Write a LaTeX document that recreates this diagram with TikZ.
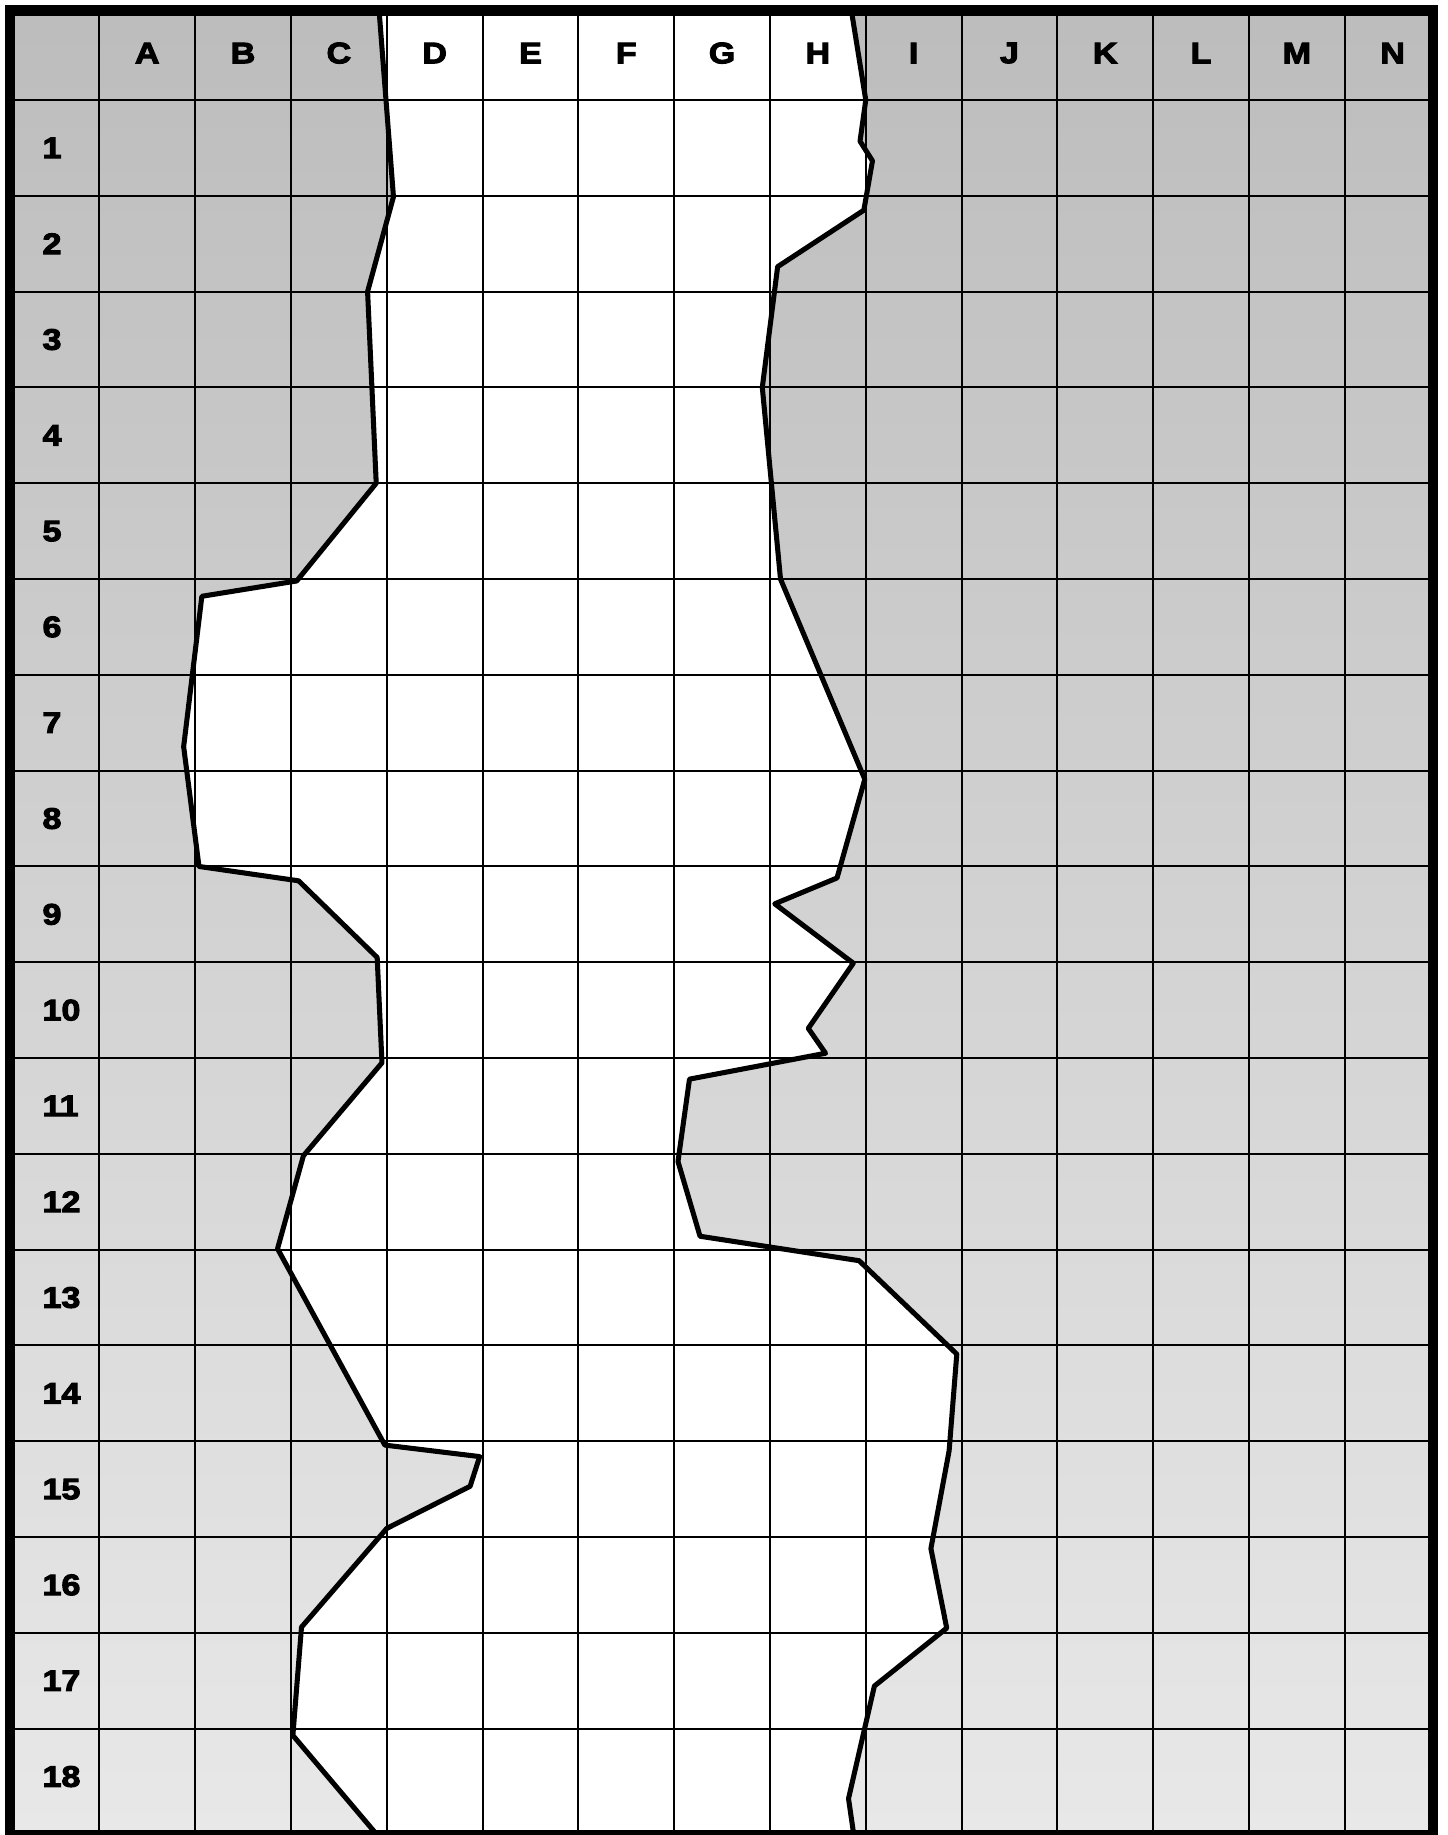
\documentclass[tikz,border=0pt]{standalone}
\usepackage{fontspec}
\newfontfamily\hdrfont{Liberation Sans}[BoldFeatures={FakeBold=3.5,FakeStretch=1.15}]
\usepackage{tikz}

\definecolor{shadetop}{gray}{0.74}
\definecolor{shadebot}{gray}{0.91}

\begin{document}
\begin{tikzpicture}[
  x=1cm, y=-1cm,
  every node/.style={font=\hdrfont\bfseries\fontsize{8.8}{10}\selectfont, inner sep=0pt},
  colhead/.style={anchor=center},
  rowhead/.style={anchor=west},
  cellline/.style={line width=0.6pt},
  edgeline/.style={line width=1.5pt, line join=round},
  border/.style={line width=3pt},
  bank/.style={top color=shadetop, bottom color=shadebot, draw=none}
]
\useasboundingbox[fill=white] (-0.037,-0.044) rectangle (15.068,19.11);

% left and right edges of the channel
\foreach \p [count=\i] in {{3.92,0.066},{4.07,2.01},{3.80,3.0},{3.89,5.0},{3.06,6.02},
  {2.07,6.18},{1.88,7.75},{2.04,9.0},{3.08,9.15},{3.9,9.95},{3.95,11.05},{3.13,12.02},
  {2.86,12.99},{3.98,15.04},{4.97,15.16},{4.87,15.47},{4.0,15.91},{3.11,16.94},
  {3.02,18.07},{3.9,19.11}}
  \coordinate (L\i) at (\p);
\foreach \p [count=\i] in {{8.85,0.066},{9.0,1.0},{8.94,1.43},{9.07,1.635},{8.98,2.15},
  {8.08,2.74},{7.92,4.0},{8.11,6.0},{8.99,8.09},{8.70,9.12},{8.05,9.39},{8.87,10.01},
  {8.40,10.69},{8.58,10.95},{7.16,11.22},{7.04,12.08},{7.27,12.86},{8.93,13.115},
  {9.95,14.09},{9.87,15.1},{9.68,16.12},{9.845,16.95},{9.09,17.555},{8.82,18.73},
  {8.875,19.11}}
  \coordinate (R\i) at (\p);

% shaded banks, white channel
\shade[bank] (0.063,0.066) rectangle (14.92,19.11);
\fill[white] (L1) \foreach \i in {2,...,20} {-- (L\i)}
  \foreach \i in {25,24,...,1} {-- (R\i)} -- cycle;

% cells
\foreach \c in {1,...,14}
  \draw[cellline] (\c,0.066) -- (\c,19.11);
\foreach \r in {1,...,18}
  \draw[cellline] (0.063,\r) -- (14.92,\r);

\draw[edgeline] (L1) \foreach \i in {2,...,20} {-- (L\i)};
\draw[edgeline] (R1) \foreach \i in {2,...,25} {-- (R\i)};

\draw[border] (0.063,0.066) rectangle (14.92,19.11);

% headings
\foreach \l [count=\i] in {A,...,N}
  \node[colhead] (col-\l) at (\i+0.5,0.51) {\l};
\foreach \r in {1,...,18}
  \node[rowhead] (row-\r) at (0.40,\r+0.5) {\r};
\end{tikzpicture}
\end{document}
